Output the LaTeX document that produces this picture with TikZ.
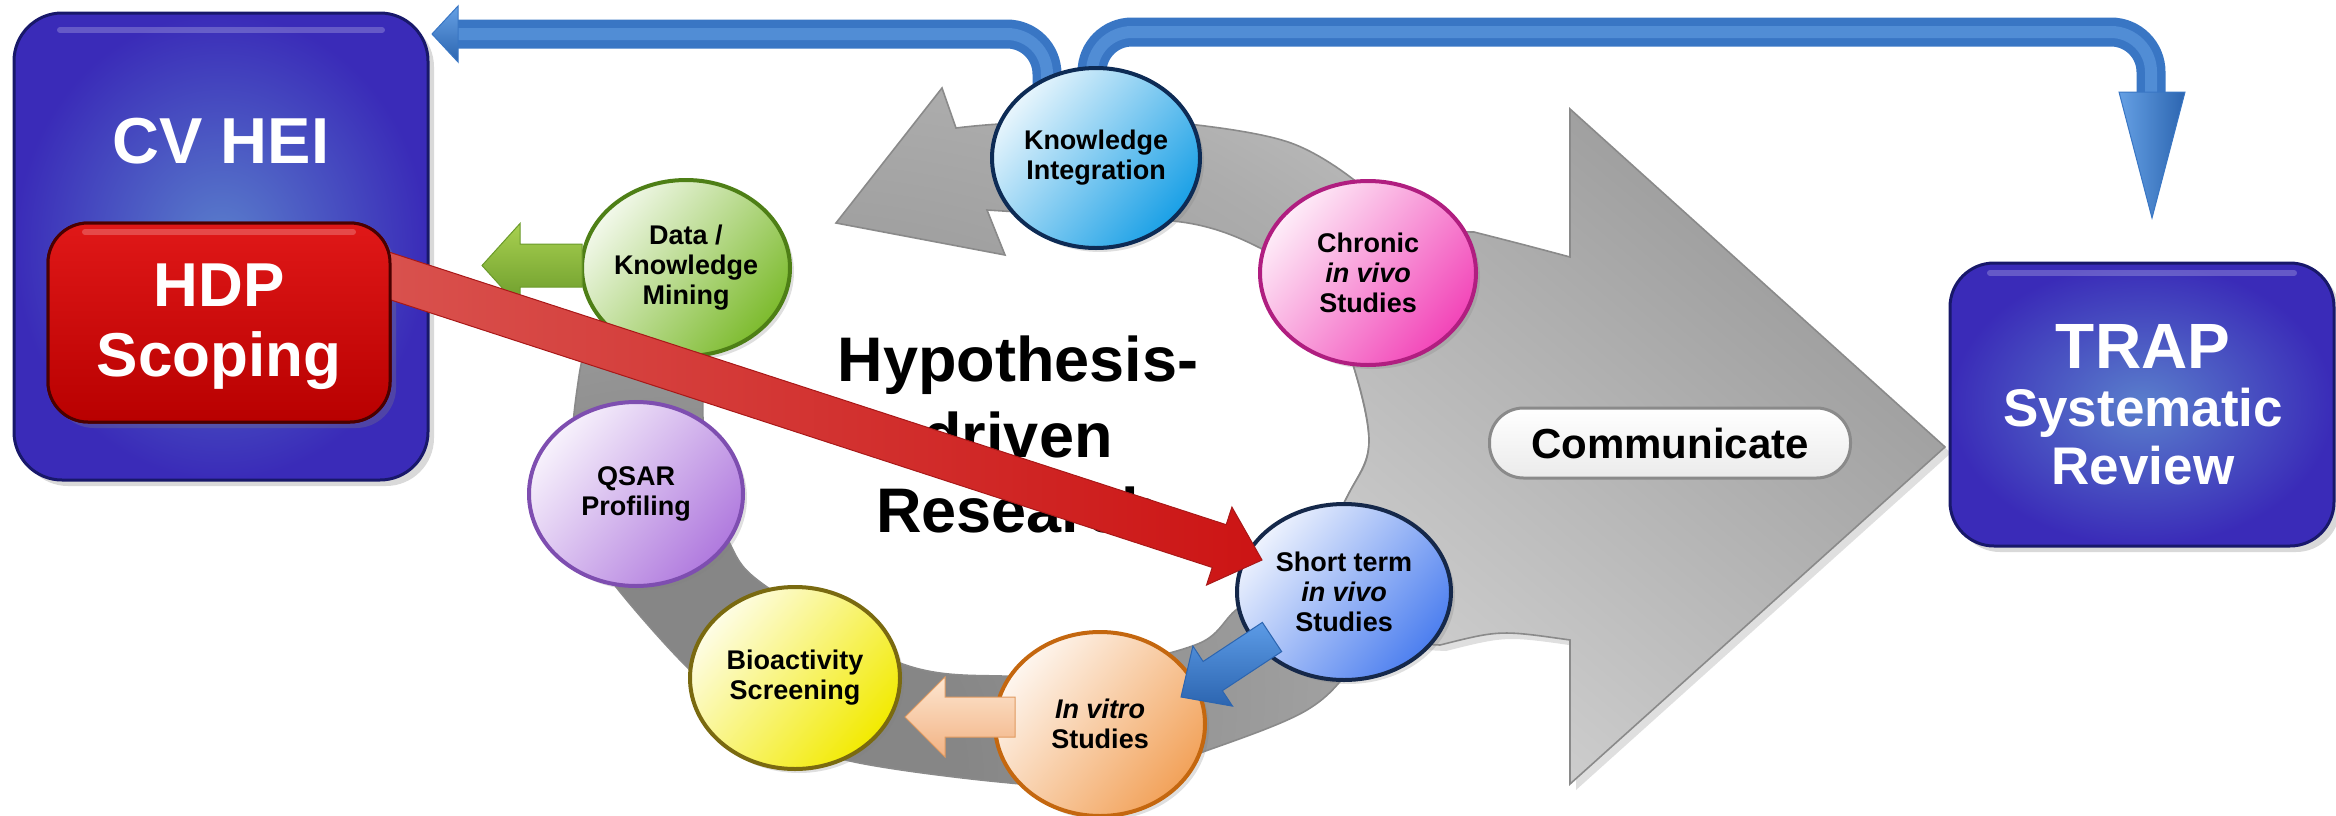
\documentclass[tikz,border=0pt]{standalone}
\usepackage{fontspec}
\setmainfont{Liberation Sans}
\usetikzlibrary{shapes.geometric,calc,shadows}
\definecolor{kiC}{HTML}{1AA0E6}
\definecolor{kiD}{HTML}{0D2B55}
\definecolor{chC}{HTML}{F245B8}
\definecolor{chD}{HTML}{B01E80}
\definecolor{dkC}{HTML}{7DBB2E}
\definecolor{dkD}{HTML}{4E7F16}
\definecolor{qsC}{HTML}{B07ADE}
\definecolor{qsD}{HTML}{7E4EB0}
\definecolor{bioC}{HTML}{F2EA00}
\definecolor{bioD}{HTML}{7A6A10}
\definecolor{ivC}{HTML}{F2A25A}
\definecolor{ivD}{HTML}{C4670F}
\definecolor{stC}{HTML}{4D7FEF}
\definecolor{stD}{HTML}{15284A}
\definecolor{boxIn}{HTML}{5A7FCC}
\definecolor{boxOut}{HTML}{3A2BB8}
\definecolor{boxLine}{HTML}{18186A}
\definecolor{hdpTop}{HTML}{E01818}
\definecolor{hdpBot}{HTML}{B80000}
\definecolor{hdpLine}{HTML}{4A0000}
\definecolor{pipeC}{HTML}{3976C4}
\definecolor{pipeL}{HTML}{65A0E4}
\definecolor{ringL}{HTML}{CBCBCB}
\definecolor{ringM}{HTML}{ACACAC}
\definecolor{ringD}{HTML}{868686}
\definecolor{arrL}{HTML}{D0D0D0}
\definecolor{arrD}{HTML}{979797}
\definecolor{edgeG}{HTML}{8A8A8A}
\definecolor{redA}{HTML}{D9534F}
\definecolor{redB}{HTML}{CC1414}
\definecolor{redE}{HTML}{A81818}
\definecolor{grnL}{HTML}{A8D050}
\definecolor{grnD}{HTML}{6A9A2A}
\definecolor{pchL}{HTML}{FDE6D0}
\definecolor{pchD}{HTML}{F2B283}
\definecolor{pchE}{HTML}{E09A60}
\definecolor{bluL}{HTML}{5C9BE6}
\definecolor{bluD}{HTML}{2C65B0}

\pgfdeclareradialshading{ringshade}{\pgfpoint{-30bp}{-35bp}}{color(0bp)=(ringD); color(18bp)=(ringD); color(38bp)=(ringM); color(48bp)=(ringL); color(60bp)=(ringL)}

\newcommand\blkarrow[6]{%
  \coordinate (ba-h) at ($(#3)!#6!(#2)$);
  \path[#1] ($(#2)!#4!90:(#3)$) -- ($(ba-h)!#4!-90:(#2)$) -- ($(ba-h)!#5!-90:(#2)$) -- (#3)
    -- ($(ba-h)!#5!90:(#2)$) -- ($(ba-h)!#4!90:(#2)$) -- ($(#2)!#4!-90:(#3)$) -- cycle;}

\begin{document}
\begin{tikzpicture}[x=0.5pt,y=-0.5pt,
  ball/.style 2 args={ellipse, draw=#2, line width=2pt, inner sep=0pt, align=center,
    font=\fontsize{13.5}{15}\selectfont\bfseries, text=black,
    top color=#1!10!white, bottom color=#1, shading angle=50,
    drop shadow={shadow xshift=2pt, shadow yshift=-2pt, opacity=0.25}},
  bigbox/.style={rectangle, rounded corners=24pt, line width=1.5pt, draw=boxLine,
    inner color=boxIn, outer color=boxOut,
    drop shadow={shadow xshift=3pt, shadow yshift=-3pt, opacity=0.3}},
  boxtext/.style={text=white, inner sep=0pt},
  gloss/.style={draw=white, opacity=0.22, line width=3pt, line cap=round},
  pipe/.style={draw=pipeC, line width=14.5pt, rounded corners=20pt},
  pipehi/.style={draw=pipeL, line width=6pt, rounded corners=20pt, opacity=0.55},
]
\useasboundingbox (0,0) rectangle (2336,815);

% ---------- feedback pipes from Knowledge Integration ----------
\coordinate (kiL) at (1047,95);
\coordinate (cvBase) at (458,34);
\coordinate (cvTip) at (432,34);
\coordinate (kiR) at (1092,95);
\coordinate (trCorner) at (2151,32);
\coordinate (trBase) at (2151,100);
\coordinate (trTip) at (2152,218);
\draw[pipe] (kiL) |- (cvBase);
\draw[pipehi, yshift=2pt] (kiL) |- (cvBase);
\path[top color=pipeL, bottom color=bluD, draw=pipeC, line width=0.5pt]
  (458,6) -- (cvTip) -- (458,62) -- cycle;
\draw[pipe] (kiR) |- (trCorner) -- (trBase);
\draw[pipehi, yshift=2pt, xshift=-1.5pt] (kiR) |- (trCorner) -- (trBase);
\path[left color=pipeL, right color=bluD, draw=pipeC, line width=0.5pt]
  (2119,92) -- (trTip) -- (2185,92) -- cycle;

% ---------- grey research ring ----------
\path[shading=ringshade, draw=edgeG, line width=0.8pt]
  plot[smooth, tension=0.55] coordinates {(650,250) (592,335) (577,390) (572,470) (590,540)
    (613,583) (687,667) (760,728) (850,761) (1000,782) (1100,785) (1200,753) (1307,710)
    (1360,657) (1430,560) (1460,440) (1440,320) (1400,230) (1358,183) (1291,143) (1197,125)
    (1100,120) (1000,124) (956,128)}
  -- (942,88) -- (836,223) -- (1005,255) -- (987,210)
  -- plot[smooth, tension=0.55] coordinates {(987,210) (1050,214) (1188,223) (1264,250)
    (1320,290) (1350,355) (1369,442) (1347,497) (1300,580) (1240,607) (1200,643) (1100,668)
    (1000,676) (900,663) (767,587) (730,544) (708,470) (703,400) (712,330) (725,262)}
  -- cycle;

% ---------- big communicate arrow ----------
\path[top color=arrD, bottom color=arrL, shading angle=-40, draw=edgeG, line width=0.8pt,
  drop shadow={shadow xshift=3pt, shadow yshift=-3pt, opacity=0.25}]
  (1330,230) -- (1474,232) .. controls (1525,245) .. (1570,257) -- (1570,109) -- (1945,447)
  -- (1570,784) -- (1570,640) .. controls (1500,630) .. (1440,645) -- (1330,640) -- (1300,580)
  -- plot[smooth, tension=0.6] coordinates {(1300,580) (1347,497) (1369,442) (1350,355) (1320,290)}
  -- cycle;

\node[rectangle, rounded corners=17pt, draw=edgeG, line width=1.5pt,
  top color=white, bottom color=black!8, minimum width=180.5pt, minimum height=35pt,
  font=\fontsize{21}{25}\selectfont\bfseries] (comm) at (1670,443) {Communicate};

% ---------- centre text ----------
\node[align=center, inner sep=0pt, font=\fontsize{31.5}{37.75}\selectfont\bfseries]
  (hyp) at (1018,434.5) {Hypothesis-\\driven\\Research};

% ---------- ring stations ----------
\node[ball={kiC}{kiD}, minimum width=104pt, minimum height=90pt] (ki) at (1096,158) {Knowledge\\Integration};
\node[ball={chC}{chD}, minimum width=108pt, minimum height=92pt] (ch) at (1368,273) {Chronic\\\textit{in vivo}\\Studies};
\node[ball={dkC}{dkD}, minimum width=104pt, minimum height=88pt] (dk) at (686,268) {Data /\\Knowledge\\Mining};
\node[ball={qsC}{qsD}, minimum width=107pt, minimum height=92pt] (qs) at (636,494) {QSAR\\Profiling};
\node[ball={bioC}{bioD}, minimum width=105pt, minimum height=91pt] (bio) at (795,678) {Bioactivity\\Screening};
\node[ball={ivC}{ivD}, minimum width=105pt, minimum height=92pt] (iv) at (1100,724) {\textit{In vitro}\\Studies};
\node[ball={stC}{stD}, minimum width=107pt, minimum height=88pt] (st) at (1344,592) {Short term\\\textit{in vivo}\\Studies};

% ---------- small block arrows ----------
\coordinate (dkTail) at ($(dk.west)+(2,-2.5)$);
\coordinate (dkTip) at (482,265.5);
\blkarrow{top color=grnL, bottom color=grnD, draw=grnD, line width=0.5pt}{dkTail}{dkTip}{10.75pt}{21pt}{19pt}
\coordinate (ivTail) at ($(iv.center)+(-85,-7)$);
\coordinate (ivTip) at ($(bio.east)+(3,39)$);
\blkarrow{top color=pchL, bottom color=pchD, draw=pchE, line width=0.5pt}{ivTail}{ivTip}{10pt}{20pt}{20pt}
\coordinate (stTail) at ($(st.center)+(-72,45)$);
\coordinate (stTip) at ($(iv.center)+(81,-27)$);
\blkarrow{top color=bluL, bottom color=bluD, draw=bluD, line width=0.5pt}{stTail}{stTip}{8.75pt}{18pt}{19pt}

% ---------- CV HEI ----------
\node[bigbox, minimum width=207pt, minimum height=233.5pt] (cvhei) at (221,246.5) {};
\draw[gloss] (60,30) -- (382,30);
\node[boxtext, anchor=base, font=\fontsize{32.5}{36}\selectfont\bfseries] (cvheiT) at (221,163) {CV HEI};

% ---------- red arrow HDP -> short term ----------
\node[rectangle, rounded corners=20pt, minimum width=171pt, minimum height=99.5pt,
  top color=hdpTop, bottom color=hdpBot, draw=hdpLine, line width=1.5pt,
  drop shadow={shadow xshift=3pt, shadow yshift=-3pt, opacity=0.3}] (hdp) at (219,322.5) {};
\coordinate (hdpTail) at ($(hdp.east)+(-20,-52.5)$);
\coordinate (stIn) at ($(st.center)+(-82,-32)$);
\blkarrow{left color=redA, right color=redB, draw=redE, line width=0.5pt}{hdpTail}{stIn}{11.25pt}{20.5pt}{22.5pt}
\node[rectangle, rounded corners=20pt, minimum width=171pt, minimum height=99.5pt,
  top color=hdpTop, bottom color=hdpBot, draw=hdpLine, line width=1.5pt] (hdpTop) at (219,322.5) {};
\draw[gloss] (85,232) -- (353,232);
\node[boxtext, align=center, font=\fontsize{31}{35}\selectfont\bfseries] (hdpT) at (219,326.3) {HDP\\Scoping};

% ---------- TRAP ----------
\node[bigbox, rounded corners=22pt, minimum width=192pt, minimum height=141.5pt] (trap) at (2142,404.5) {};
\draw[gloss] (1990,273) -- (2294,273);
\node[boxtext, anchor=base, font=\fontsize{32}{36}\selectfont\bfseries] (trapT) at (2143,368) {TRAP};
\node[boxtext, align=center, font=\fontsize{26.5}{29}\selectfont\bfseries] (trapS) at (2143,437) {Systematic\\Review};

\end{tikzpicture}
\end{document}
